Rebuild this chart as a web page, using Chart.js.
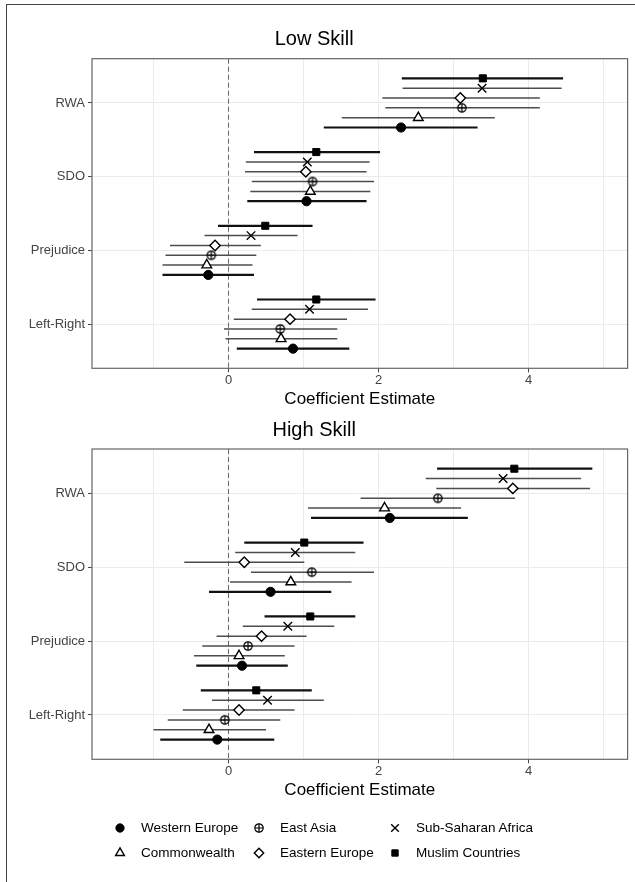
<!DOCTYPE html>
<html>
<head>
<meta charset="utf-8">
<script src="https://cdn.jsdelivr.net/npm/chart.js@4.4.1/dist/chart.umd.min.js"></script>
<style>
  html, body { margin: 0; padding: 0; background: #fff; }
  body { width: 635px; height: 882px; position: relative; overflow: hidden;
         font-family: "Liberation Sans", Arial, sans-serif; }
  #frame { position: absolute; left: 6px; top: 4px; width: 650px; height: 900px;
           border: 1.5px solid #444; box-sizing: border-box; }
  canvas.panel { position: absolute; left: 0; }
  #lowChart { top: 0; }
  #highChart { top: 412px; }
  #legend { position: absolute; left: 113px; top: 815px; display: grid;
            grid-template-rows: 25px 25px; grid-auto-flow: column;
            grid-template-columns: 139px 136px 170px; font-size: 13.5px; color: #000; }
  .item { display: flex; align-items: center; white-space: nowrap; }
  .item canvas { width: 14px; height: 14px; margin-right: 14px; }
</style>
</head>
<body>
<div id="frame"></div>
<canvas id="lowChart" class="panel" width="635" height="412"></canvas>
<canvas id="highChart" class="panel" width="635" height="400"></canvas>
<div id="legend"></div>

<script>
// y axis, top to bottom
const categories = ["RWA", "SDO", "Prejudice", "Left-Right"];
// dodge order, bottom to top within each category
const regions = ["Western Europe", "Commonwealth", "East Asia", "Eastern Europe", "Sub-Saharan Africa", "Muslim Countries"];
const xTicks = [-1, 0, 1, 2, 3, 4, 5];
const zeroLine = 0;

// rows = regions, columns = categories
const lowEst = [
  [2.30, 1.04, -0.27, 0.86],
  [2.53, 1.09, -0.29, 0.70],
  [3.11, 1.12, -0.23, 0.69],
  [3.09, 1.03, -0.18, 0.82],
  [3.38, 1.05, 0.30, 1.08],
  [3.39, 1.17, 0.49, 1.17]
];
const lowLower = [
  [1.27, 0.25, -0.88, 0.11],
  [1.51, 0.29, -0.88, -0.04],
  [2.09, 0.31, -0.84, -0.06],
  [2.05, 0.22, -0.78, 0.07],
  [2.32, 0.23, -0.32, 0.31],
  [2.31, 0.34, -0.14, 0.38]
];
const lowUpper = [
  [3.32, 1.84, 0.34, 1.61],
  [3.55, 1.89, 0.32, 1.45],
  [4.15, 1.94, 0.37, 1.45],
  [4.15, 1.84, 0.43, 1.58],
  [4.44, 1.88, 0.92, 1.86],
  [4.46, 2.02, 1.12, 1.96]
];

const highEst = [
  [2.15, 0.56, 0.18, -0.15],
  [2.08, 0.83, 0.14, -0.26],
  [2.79, 1.11, 0.26, -0.05],
  [3.79, 0.21, 0.44, 0.14],
  [3.66, 0.89, 0.79, 0.52],
  [3.81, 1.01, 1.09, 0.37]
];
const highLower = [
  [1.10, -0.26, -0.43, -0.91],
  [1.06, 0.02, -0.46, -1.00],
  [1.76, 0.30, -0.35, -0.81],
  [2.77, -0.59, -0.16, -0.61],
  [2.63, 0.09, 0.19, -0.22],
  [2.78, 0.21, 0.48, -0.37]
];
const highUpper = [
  [3.19, 1.37, 0.79, 0.61],
  [3.10, 1.64, 0.75, 0.50],
  [3.82, 1.94, 0.88, 0.69],
  [4.82, 1.01, 1.04, 0.88],
  [4.70, 1.69, 1.41, 1.27],
  [4.85, 1.80, 1.69, 1.11]
];

Chart.defaults.font.family = '"Liberation Sans", Arial, sans-serif';

// circle with a plus, for East Asia
function makeCirclePlus() {
  const c = document.createElement("canvas");
  c.width = 12; c.height = 12;
  const g = c.getContext("2d");
  g.strokeStyle = "#000"; g.lineWidth = 1.2;
  g.beginPath(); g.arc(6, 6, 4.2, 0, Math.PI * 2); g.stroke();
  g.beginPath(); g.moveTo(1.8, 6); g.lineTo(10.2, 6); g.moveTo(6, 1.8); g.lineTo(6, 10.2); g.stroke();
  return c;
}
const circlePlus = makeCirclePlus();

const regionStyle = [
  { pointStyle: "circle",   radius: 4.6, fill: "#000", bw: 1,   line: "#111",    lw: 2.2 },
  { pointStyle: "triangle", radius: 5.6, fill: "#fff", bw: 1.4, line: "#4d4d4d", lw: 1.5 },
  { pointStyle: circlePlus, radius: 5,   fill: "#fff", bw: 1,   line: "#4d4d4d", lw: 1.5 },
  { pointStyle: "rectRot",  radius: 5.2, fill: "#fff", bw: 1.4, line: "#4d4d4d", lw: 1.5 },
  { pointStyle: "crossRot", radius: 6,   fill: "#000", bw: 1.4, line: "#4d4d4d", lw: 1.5 },
  { pointStyle: "rect",     radius: 5,   fill: "#000", bw: 1,   line: "#111",    lw: 2.2 }
];

function buildDatasets(est, lower, upper) {
  const n = categories.length;
  const dodge = 0.8 / regions.length;
  const sets = [];
  regions.forEach((name, r) => {
    const st = regionStyle[r];
    const off = (r - (regions.length - 1) / 2) * dodge;
    const bars = [];
    categories.forEach((c, i) => {
      const y = n - i + off;
      bars.push({ x: lower[r][i], y }, { x: upper[r][i], y }, { x: upper[r][i], y: null });
    });
    sets.push({
      label: name + " interval", data: bars, showLine: true, spanGaps: false,
      borderColor: st.line, borderWidth: st.lw, pointRadius: 0, order: 2
    });
    sets.push({
      label: name,
      data: categories.map((c, i) => ({ x: est[r][i], y: n - i + off })),
      pointStyle: st.pointStyle, pointRadius: st.radius, pointHoverRadius: st.radius,
      backgroundColor: st.fill, borderColor: "#000", borderWidth: st.bw, order: 1
    });
  });
  return sets;
}

const panelExtras = {
  id: "panelExtras",
  beforeDatasetsDraw(chart) {
    const { ctx, chartArea: a, scales: { x } } = chart;
    const px = x.getPixelForValue(zeroLine);
    ctx.save();
    ctx.strokeStyle = "#666";
    ctx.lineWidth = 1;
    ctx.setLineDash([5, 3]);
    ctx.beginPath(); ctx.moveTo(px, a.top); ctx.lineTo(px, a.bottom); ctx.stroke();
    ctx.restore();
  },
  afterDraw(chart) {
    const { ctx, chartArea: a } = chart;
    ctx.save();
    ctx.strokeStyle = "#666";
    ctx.lineWidth = 1.2;
    ctx.strokeRect(a.left, a.top, a.right - a.left, a.bottom - a.top);
    ctx.restore();
  }
};

function makePanel(id, title, est, lower, upper, pad) {
  const n = categories.length;
  return new Chart(document.getElementById(id), {
    type: "scatter",
    data: { datasets: buildDatasets(est, lower, upper) },
    plugins: [panelExtras],
    options: {
      responsive: false,
      animation: false,
      events: [],
      devicePixelRatio: 1,
      layout: { padding: { left: 0, right: 6.7, top: 0, bottom: pad.bottom } },
      plugins: {
        legend: { display: false },
        tooltip: { enabled: false },
        title: {
          display: true, text: title, color: "#000",
          font: { size: 20, weight: "normal" },
          padding: { top: pad.titleTop, bottom: pad.titleBottom }
        }
      },
      scales: {
        x: {
          type: "linear", min: -1.82, max: 5.32,
          afterBuildTicks: s => { s.ticks = xTicks.map(v => ({ value: v })); },
          border: { display: false },
          grid: {
            color: "#ebebeb", lineWidth: 1, tickLength: 4,
            tickColor: c => (c.tick && c.tick.value % 2 === 0 ? "#444" : "rgba(0,0,0,0)")
          },
          ticks: {
            color: "#444", font: { size: 13 }, padding: 0, maxRotation: 0, autoSkip: false,
            callback: v => (v % 2 === 0 ? String(v) : "")
          },
          title: {
            display: true, text: "Coefficient Estimate", color: "#000",
            font: { size: 17 }, padding: { top: 1, bottom: 0 }
          }
        },
        y: {
          type: "linear", min: 0.4, max: 4.6,
          afterBuildTicks: s => { s.ticks = categories.map((c, i) => ({ value: n - i })); },
          afterFit: s => { s.width = 92; },
          border: { display: false },
          grid: { color: "#ebebeb", lineWidth: 1, tickLength: 4, tickColor: "#444" },
          ticks: {
            color: "#444", font: { size: 13 }, padding: 3, autoSkip: false,
            callback: v => categories[n - v] || ""
          }
        }
      }
    }
  });
}

makePanel("lowChart", "Low Skill", lowEst, lowLower, lowUpper,
  { titleTop: 27, titleBottom: 7.7, bottom: 2.7 });
makePanel("highChart", "High Skill", highEst, highLower, highUpper,
  { titleTop: 6, titleBottom: 7, bottom: 11.7 });

// legend, filled by column like the original
const legend = document.getElementById("legend");
regions.forEach((name, r) => {
  const st = regionStyle[r];
  const item = document.createElement("div");
  item.className = "item";
  const icon = document.createElement("canvas");
  icon.width = 14; icon.height = 14;
  const g = icon.getContext("2d");
  g.fillStyle = st.fill; g.strokeStyle = "#000"; g.lineWidth = st.bw;
  if (Chart.helpers && Chart.helpers.drawPoint) {
    Chart.helpers.drawPoint(g, { pointStyle: st.pointStyle, radius: st.radius * 0.9, rotation: 0, borderWidth: st.bw }, 7, 7);
  }
  const label = document.createElement("span");
  label.textContent = name;
  item.appendChild(icon);
  item.appendChild(label);
  legend.appendChild(item);
});
</script>
</body>
</html>
